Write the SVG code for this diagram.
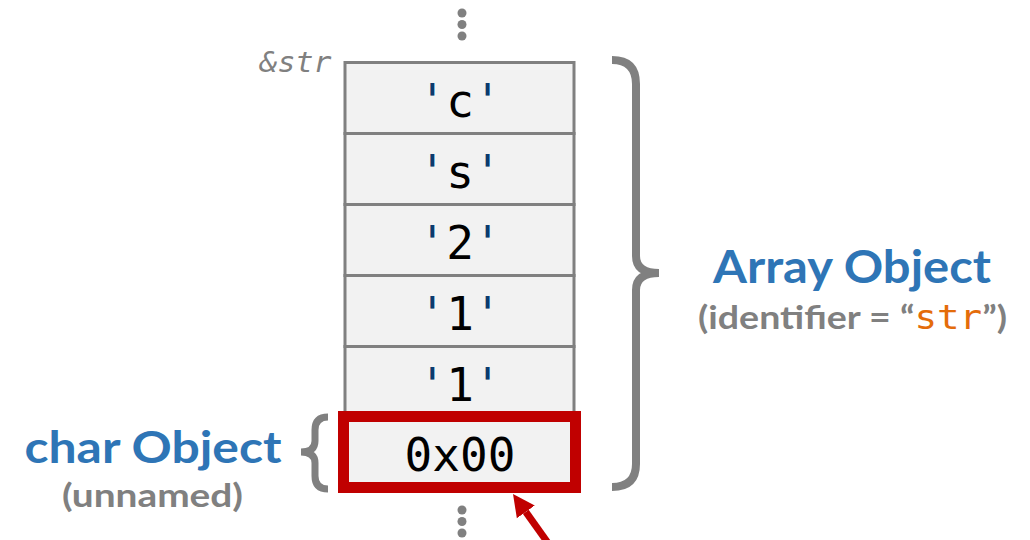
<svg xmlns="http://www.w3.org/2000/svg" width="1030" height="540" viewBox="0 0 1030 540">
  <style>
    .cell { fill: #f2f2f2; stroke: #808080; stroke-width: 3; }
    .val { font-family: "DejaVu Sans Mono", "Liberation Mono", monospace; font-size: 46px; fill: #000; text-anchor: middle; }
    .q { fill: #0b3a6e; }
    .brace { fill: none; stroke: #808080; stroke-linecap: butt; }
    .dot { fill: #808080; }
    .title { font-family: Lato, "Open Sans", sans-serif; font-weight: bold; fill: #2e75b6; text-anchor: middle; }
    .sub { font-family: Lato, "Open Sans", sans-serif; font-weight: bold; fill: #808080; text-anchor: middle; }
    .code { font-family: "DejaVu Sans Mono", "Liberation Mono", monospace; font-weight: normal; fill: #e46c0a; }
  </style>
  <defs>
    <marker id="head" viewBox="0 0 10 10" refX="0" refY="5" markerUnits="userSpaceOnUse" markerWidth="22" markerHeight="24" orient="auto">
      <path d="M0,0 L10,5 L0,10 Z" fill="#c00000"/>
    </marker>
  </defs>
  <rect width="1030" height="540" fill="#ffffff"/>

  <!-- continuation dots above and below the memory column -->
  <g id="dots-top">
    <circle class="dot" cx="462" cy="13" r="4.5"/>
    <circle class="dot" cx="462" cy="24.5" r="4.5"/>
    <circle class="dot" cx="462" cy="36" r="4.5"/>
  </g>
  <g id="dots-bottom">
    <circle class="dot" cx="462" cy="510" r="4.5"/>
    <circle class="dot" cx="462" cy="521.5" r="4.5"/>
    <circle class="dot" cx="462" cy="533" r="4.5"/>
  </g>

  <!-- address label -->
  <text id="addr" x="295.5" y="72" font-family="DejaVu Sans Mono, Liberation Mono, monospace" font-style="italic" font-size="28" fill="#808080" text-anchor="middle" textLength="72" lengthAdjust="spacingAndGlyphs">&amp;str</text>

  <!-- memory cells -->
  <g id="cell-c">
    <rect class="cell" x="345" y="62.5" width="229" height="71"/>
    <text class="val" x="460" y="117"><tspan class="q">'</tspan>c<tspan class="q">'</tspan></text>
  </g>
  <g id="cell-s">
    <rect class="cell" x="345" y="133.5" width="229" height="71"/>
    <text class="val" x="460" y="188"><tspan class="q">'</tspan>s<tspan class="q">'</tspan></text>
  </g>
  <g id="cell-2">
    <rect class="cell" x="345" y="204.5" width="229" height="71"/>
    <text class="val" x="460" y="259"><tspan class="q">'</tspan>2<tspan class="q">'</tspan></text>
  </g>
  <g id="cell-1a">
    <rect class="cell" x="345" y="275.5" width="229" height="71"/>
    <text class="val" x="460" y="330"><tspan class="q">'</tspan>1<tspan class="q">'</tspan></text>
  </g>
  <g id="cell-1b">
    <rect class="cell" x="345" y="346.5" width="229" height="71"/>
    <text class="val" x="460" y="401"><tspan class="q">'</tspan>1<tspan class="q">'</tspan></text>
  </g>
  <g id="cell-nul">
    <rect x="343.5" y="416.5" width="232" height="71" fill="#f2f2f2" stroke="#c00000" stroke-width="11"/>
    <text class="val" x="460" y="471">0x00</text>
  </g>

  <!-- braces -->
  <g id="array-brace">
    <path class="brace" stroke-width="8" d="M612,60 Q636,60 636,84 L636,256 Q636,273 659,273 Q636,273 636,290 L636,464 Q636,487 612,487"/>
  </g>
  <g id="char-brace">
    <path class="brace" stroke-width="7" d="M328,417 Q315,417 315,430 L315,441 Q315,452 301,452 Q315,452 315,463 L315,476 Q315,489 328,489"/>
  </g>

  <!-- labels -->
  <g id="array-label">
    <text class="title" x="852" y="283" font-size="45" textLength="278" lengthAdjust="spacingAndGlyphs">Array Object</text>
    <text class="sub" x="852.5" y="329" font-size="33" textLength="309" lengthAdjust="spacingAndGlyphs">(identifier = “<tspan class="code">str</tspan>”)</text>
  </g>
  <g id="char-label">
    <text class="title" x="153" y="463" font-size="44" textLength="257" lengthAdjust="spacingAndGlyphs">char Object</text>
    <text class="sub" x="152.5" y="507" font-size="33" textLength="181" lengthAdjust="spacingAndGlyphs">(unnamed)</text>
  </g>

  <!-- pointer into the terminating cell -->
  <g id="connectors">
    <line x1="548" y1="543" x2="525.8" y2="511.9" stroke="#c00000" stroke-width="7" marker-end="url(#head)"/>
  </g>
</svg>
